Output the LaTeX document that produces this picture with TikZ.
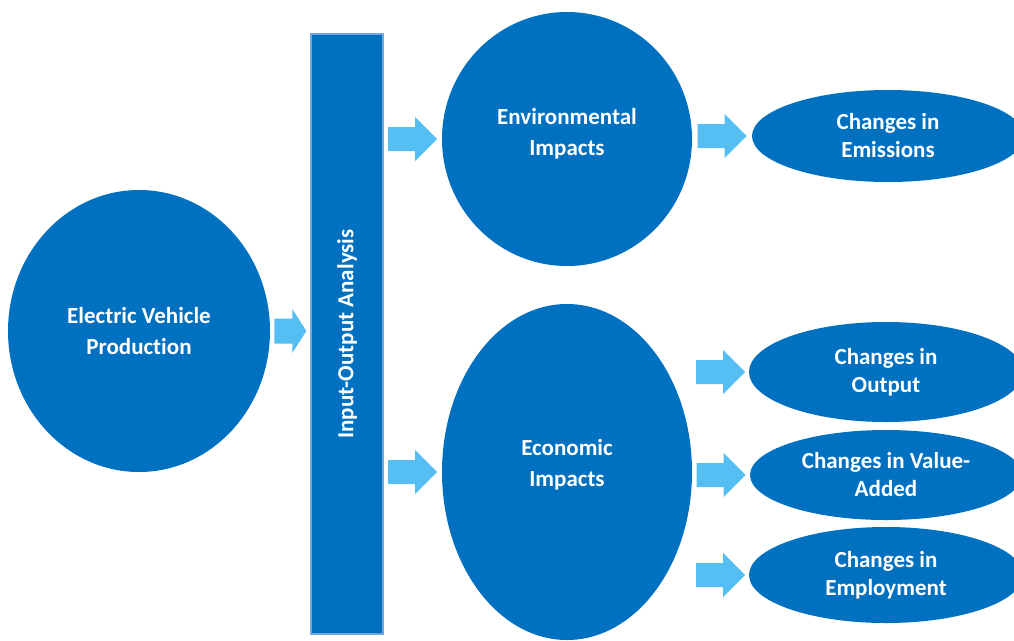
\documentclass[tikz,border=0pt]{standalone}
\usepackage{fontspec}
\setmainfont{Carlito}[Ligatures=NoCommon]
\usetikzlibrary{shapes.geometric,calc}
\definecolor{dblue}{HTML}{0070C0}
\definecolor{lblue}{HTML}{55BEF2}
\definecolor{eblue}{HTML}{6FA8DC}
\tikzset{
  blob/.style={ellipse, fill=dblue, text=white, font=\bfseries\fontsize{23}{30}\selectfont, align=center, inner sep=0pt},
  lbl/.style={text=white, font=\bfseries\fontsize{23}{31}\selectfont, align=center, inner sep=0pt},
  iobox/.style={rectangle, fill=dblue, draw=eblue, line width=1.2pt, text=white, font=\bfseries\fontsize{23}{28}\selectfont, inner sep=0pt},
  barrow/.pic={\fill[lblue] (-24.5,-12) -- (2.5,-12) -- (2.5,-22) -- (24.5,0) -- (2.5,22) -- (2.5,12) -- (-24.5,12) -- cycle;},
  sbarrow/.pic={\fill[lblue] (-16,-12.5) -- (2,-12.5) -- (2,-22) -- (16,0) -- (2,22) -- (2,12.5) -- (-16,12.5) -- cycle;}
}
\begin{document}
\begin{tikzpicture}[x=1pt,y=-1pt]
\useasboundingbox (0,0) rectangle (1014,640);
\clip (0,0) rectangle (1014,640);
\node[blob, minimum width=262pt, minimum height=282pt] (ev) at (139,331) {Electric Vehicle\\[1pt]Production};
\node[iobox, rotate=90, minimum width=600pt, minimum height=72pt] (io) at (347,334) {Input-Output Analysis};
\node[blob, minimum width=250pt, minimum height=254pt, label={[lbl, yshift=5pt]center:Environmental\\Impacts}] (env) at (567,139) {};
\node[blob, minimum width=250pt, minimum height=336pt, label={[lbl, yshift=7pt]center:Economic\\Impacts}] (eco) at (567,472) {};
\node[blob, minimum width=272pt, minimum height=92pt] (em) at (888,136) {Changes in\\[-2pt]Emissions};
\node[blob, minimum width=274pt, minimum height=100pt] (out) at (886,372) {Changes in\\[-2pt]Output};
\node[blob, minimum width=272pt, minimum height=90pt] (va) at (886,475) {Changes in Value-\\[-2pt]Added};
\node[blob, minimum width=274pt, minimum height=96pt] (emp) at (886,575) {Changes in\\[-2pt]Employment};
% block arrows between nodes
\path ($(ev.east)!0.5!(io.north |- ev.east)$) pic {sbarrow};
\path ($(io.south |- env.west)!0.5!(env.west)$) pic {barrow};
\path ($(io.south |- eco.west)!0.5!(eco.west)$) pic {barrow};
\path ($(env.east |- em.west)!0.5!(em.west)$) pic {barrow};
\path ($(eco.east |- out.west)!0.5!(out.west)$) pic {barrow};
\path ($(eco.east |- va.west)!0.5!(va.west)$) pic {barrow};
\path ($(eco.east |- emp.west)!0.5!(emp.west)$) pic {barrow};
\end{tikzpicture}
\end{document}
